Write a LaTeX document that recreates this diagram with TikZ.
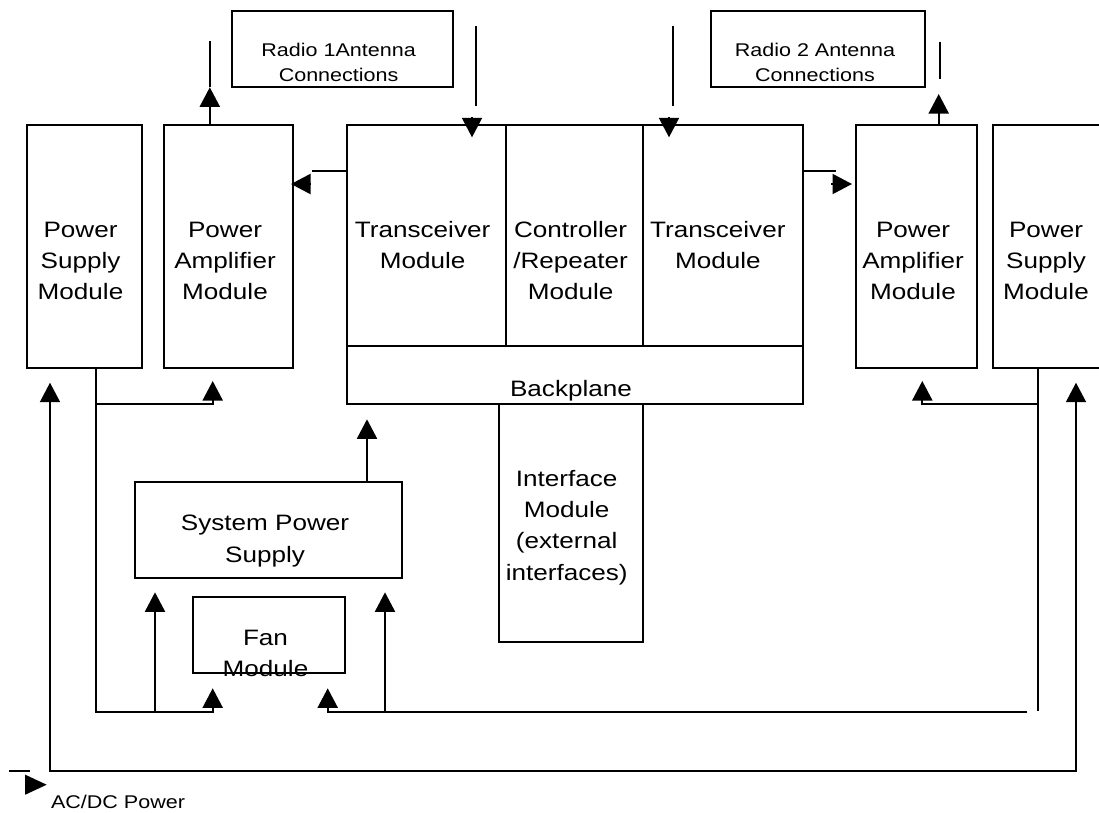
\documentclass[tikz,border=0pt]{standalone}
\usepackage{fontspec}
\setmainfont[FakeStretch=1.17]{Liberation Sans}
\usetikzlibrary{arrows.meta}
\newcommand\mainsz{\fontsize{22.3}{31.1}\selectfont}
\newcommand\radsz{\fontsize{18.4}{25}\selectfont}
\begin{document}
\begin{tikzpicture}[x=1pt,y=-1pt,line width=2pt,
  box/.style={draw,inner sep=0pt},
  txt/.style={font=\mainsz,align=center,inner sep=0pt,anchor=base},
  stxt/.style={font=\radsz,align=center,inner sep=0pt,anchor=base},
  arr/.style={-{Triangle[length=19.5pt,width=20pt]}},
  arrboth/.style={{Triangle[length=19.5pt,width=20pt]}-{Triangle[length=19.5pt,width=20pt]}},
  acarr/.style={-{Triangle[length=21.5pt,width=19.5pt]}}]
\useasboundingbox (0,0) rectangle (1099,812);
\fill[white] (0,0) rectangle (1099,812);
% boxes
\node[box,minimum width=114.7pt,minimum height=243.3pt] (psl) at (84.35,246.65) {};
\node[box,minimum width=129.6pt,minimum height=243.3pt] (pal) at (228.5,246.65) {};
\node[box,minimum width=159.3pt,minimum height=220.7pt] (txl) at (426.35,235.35) {};
\node[box,minimum width=136.7pt,minimum height=220.7pt] (ctl) at (574.35,235.35) {};
\node[box,minimum width=160pt,minimum height=220.7pt] (txr) at (722.7,235.35) {};
\node[box,minimum width=456pt,minimum height=58.6pt] (bp) at (574.7,375) {};
\node[box,minimum width=121.6pt,minimum height=243.3pt] (par) at (916.5,246.65) {};
\node[box,minimum width=108.8pt,minimum height=243.3pt] (psr) at (1047.1,246.65) {};
\node[box,minimum width=220.3pt,minimum height=76.3pt] (r1) at (342.45,49.15) {};
\node[box,minimum width=213.3pt,minimum height=76.3pt] (r2) at (818.05,49.15) {};
\node[box,minimum width=266.7pt,minimum height=96pt] (sps) at (268.35,529.7) {};
\node[box,minimum width=151.7pt,minimum height=75.4pt] (fan) at (269.15,635) {};
\node[box,minimum width=144pt,minimum height=237.4pt] (ifm) at (570.7,523) {};
% texts (anchor = baseline of last line)
\node[txt] (pslt) at (80.5,299.9) {Power\\Supply\\Module};
\node[txt] (palt) at (225,299.9) {Power\\Amplifier\\Module};
\node[txt] (txlt) at (422.6,268.8) {Transceiver\\Module};
\node[txt] (ctlt) at (570.6,299.9) {Controller\\/Repeater\\Module};
\node[txt] (txrt) at (717.8,268.8) {Transceiver\\Module};
\node[txt] (bpt) at (571,396.7) {Backplane};
\node[txt] (part) at (913,299.9) {Power\\Amplifier\\Module};
\node[txt] (psrt) at (1046,299.9) {Power\\Supply\\Module};
\node[stxt] (r1t) at (338.6,81.7) {Radio 1Antenna\\Connections};
\node[stxt] (r2t) at (815,81.7) {Radio 2 Antenna\\Connections};
\node[txt] (spst) at (265,562) {System Power\\Supply};
\node[txt] (fant) at (265.5,676.5) {Fan\\Module};
\node[txt] (ifmt) at (566.7,580) {Interface\\Module\\(external\\interfaces)};
\node[stxt,anchor=base west] (acdc) at (50,808) {AC/DC Power};
% top connectors
\coordinate (a1top) at (209.8,40.7);
\coordinate (a1tip) at (209.8,87.3);
\draw[arr] (pal.north -| a1tip) -- (a1tip);
\draw (a1tip) -- (a1top);
\coordinate (d1top) at (475.8,26);
\coordinate (d1end) at (475.8,106);
\draw (d1top) -- (d1end);
\coordinate (d1a) at (472,117.3);
\coordinate (d1b) at (472,137.3);
\draw[arr] (d1a) -- (d1b);
\coordinate (d2top) at (672.8,26);
\coordinate (d2end) at (672.8,106);
\draw (d2top) -- (d2end);
\coordinate (d2a) at (669,117.3);
\coordinate (d2b) at (669,137.3);
\draw[arr] (d2a) -- (d2b);
\coordinate (a2top) at (939.5,41.7);
\coordinate (a2end) at (939.5,79.3);
\draw (a2top) -- (a2end);
\coordinate (a2tip) at (938.7,94);
\draw[arr] (par.north -| a2tip) -- (a2tip);
% horizontal outputs
\coordinate (h1) at (312.3,170.5);
\draw (txl.west |- h1) -- (h1);
\coordinate (h1a) at (310.7,184);
\coordinate (h1b) at (291,184);
\draw[arr] (h1a) -- (h1b);
\coordinate (h2) at (836,170.5);
\draw (txr.east |- h2) -- (h2);
\coordinate (h2a) at (831.3,184);
\coordinate (h2b) at (852,184);
\draw[arr] (h2a) -- (h2b);
% left power wiring
\coordinate (c1) at (96,712.3);
\coordinate (c2) at (212.7,712.3);
\coordinate (fanLtip) at (212.7,688.3);
\draw[arr] (psl.south -| c1) -- (c1) -- (c2) -- (fanLtip);
\coordinate (c3) at (96,404.3);
\coordinate (palTip) at (212.7,381);
\draw[arr] (c3) -- (c3 -| palTip) -- (palTip);
\coordinate (c4) at (155,712.3);
\coordinate (spsLtip) at (155,592.3);
\draw[arr] (c4) -- (spsLtip);
\coordinate (bpTip) at (367,419.3);
\draw[arr] (sps.north -| bpTip) -- (bpTip);
% right power wiring
\coordinate (q1) at (1038,710.7);
\draw (psr.south -| q1) -- (q1);
\coordinate (q2) at (1038,404.3);
\coordinate (parTip) at (922.3,381);
\draw[arr] (q2) -- (q2 -| parTip) -- (parTip);
\coordinate (q3) at (1027.3,712.3);
\coordinate (fanRtip) at (327.7,688.3);
\draw[arr] (q3) -- (q3 -| fanRtip) -- (fanRtip);
\coordinate (q4) at (385,712.3);
\coordinate (spsRtip) at (385,592.3);
\draw[arr] (q4) -- (spsRtip);
% AC/DC feed
\coordinate (o1) at (50,382.7);
\coordinate (o2) at (1076,382.7);
\coordinate (ob) at (0,770.7);
\draw[arrboth] (o1) -- (o1 |- ob) -- (o2 |- ob) -- (o2);
\coordinate (ac1) at (9,770.7);
\coordinate (ac2) at (30,770.7);
\draw (ac1) -- (ac2);
\coordinate (ac3) at (25,784.7);
\coordinate (ac4) at (46.7,784.7);
\draw[acarr] (ac3) -- (ac4);
\end{tikzpicture}
\end{document}
